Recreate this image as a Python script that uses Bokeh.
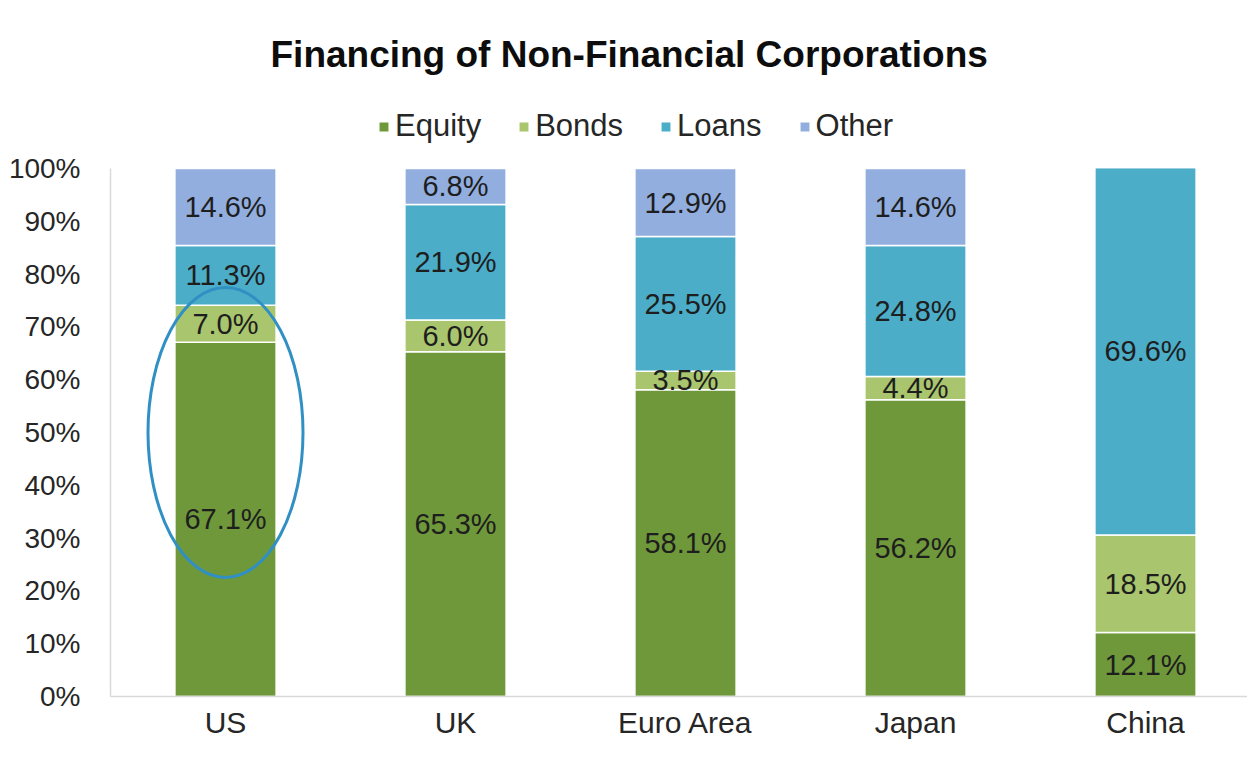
from bokeh.plotting import figure
from bokeh.models import ColumnDataSource, Range1d, FixedTicker, Legend, LegendItem, LabelSet
from bokeh.core.properties import value
from bokeh.embed import file_html
from bokeh.resources import INLINE

categories = ["US", "UK", "Euro Area", "Japan", "China"]
equity = [67.1, 65.3, 58.1, 56.2, 12.1]
bonds = [7.0, 6.0, 3.5, 4.4, 18.5]
loans = [11.3, 21.9, 25.5, 24.8, 69.6]
other = [14.6, 6.8, 12.9, 14.6, 0.0]
series_names = ["Equity", "Bonds", "Loans", "Other"]
colors = ["#6f983b", "#a9c56d", "#4badc8", "#92aedf"]
y_ticks = [0, 10, 20, 30, 40, 50, 60, 70, 80, 90, 100]

FONT = "Liberation Sans"

# layout (pixels)
FRAME_W, FRAME_H = 1137, 591
PX_PER_PCT = 5.28
CAT_W = 230.0

xs = list(range(len(categories)))
source = ColumnDataSource(dict(x=xs, Equity=equity, Bonds=bonds, Loans=loans, Other=other))

p = figure(frame_width=FRAME_W, frame_height=FRAME_H, output_backend="svg", toolbar_location=None,
           x_range=Range1d(-0.5, -0.5 + FRAME_W / CAT_W),
           y_range=Range1d(0, FRAME_H / PX_PER_PCT),
           min_border_left=110, min_border_bottom=53, min_border_right=0, min_border_top=105)

renderers = p.vbar_stack(series_names, x="x", width=0.44, color=colors, source=source,
                         line_color="white", line_width=1.5)

# segment labels
lx, ly, lt = [], [], []
vals = [equity, bonds, loans, other]
for i in xs:
    base = 0.0
    for s in vals:
        v = s[i]
        if v > 0:
            lx.append(i)
            ly.append(base + v / 2)
            lt.append(f"{v:.1f}%")
        base += v
lsrc = ColumnDataSource(dict(x=lx, y=ly, t=lt))
labels = LabelSet(x="x", y="y", text="t", source=lsrc, text_align="center", text_baseline="middle",
                  text_font=value(FONT), text_font_size=value("29px"), text_color=value("#1e1e1e"))
p.add_layout(labels)

# highlight ellipse around the US equity/bonds
p.ellipse(x=[0], y=[50], width=155, height=290, width_units="screen", height_units="screen",
          fill_color=None, line_color="#3190c3", line_width=3)

legend = Legend(items=[LegendItem(label=n, renderers=[r]) for n, r in zip(series_names, renderers)],
                orientation="horizontal", location=(267, 552))
legend.label_text_font = FONT
legend.label_text_font_size = "31px"
legend.label_text_color = "#262626"
legend.glyph_width = 13
legend.glyph_height = 13
legend.label_standoff = 5
legend.spacing = 36
legend.border_line_color = None
legend.background_fill_alpha = 0
legend.margin = 0
legend.padding = 0
p.add_layout(legend)

p.title.text = "Financing of Non-Financial Corporations"
p.title.align = "left"
p.title.offset = 160
p.title.text_font = FONT
p.title.text_font_size = "37px"
p.title.text_font_style = "bold"
p.title.text_color = "#0d0d0d"
p.title.standoff = 62

p.xaxis.ticker = FixedTicker(ticks=xs)
p.xaxis.major_label_overrides = {i: c for i, c in zip(xs, categories)}
p.yaxis.ticker = FixedTicker(ticks=y_ticks)
p.yaxis.major_label_overrides = {t: f"{t}%" for t in y_ticks}
p.yaxis.bounds = (0, 100)
for ax in (p.xaxis, p.yaxis):
    ax.axis_line_color = "#d9d9d9"
    ax.axis_line_width = 1.5
    ax.major_tick_line_color = None
    ax.minor_tick_line_color = None
    ax.major_label_text_font = FONT
    ax.major_label_text_color = "#262626"
p.xaxis.major_label_text_font_size = "30px"
p.yaxis.major_label_text_font_size = "28px"
p.xaxis.major_label_standoff = 3
p.yaxis.major_label_standoff = 24
p.xgrid.grid_line_color = None
p.ygrid.grid_line_color = None
p.outline_line_color = None

open("out.html", "w").write(file_html(p, INLINE))
